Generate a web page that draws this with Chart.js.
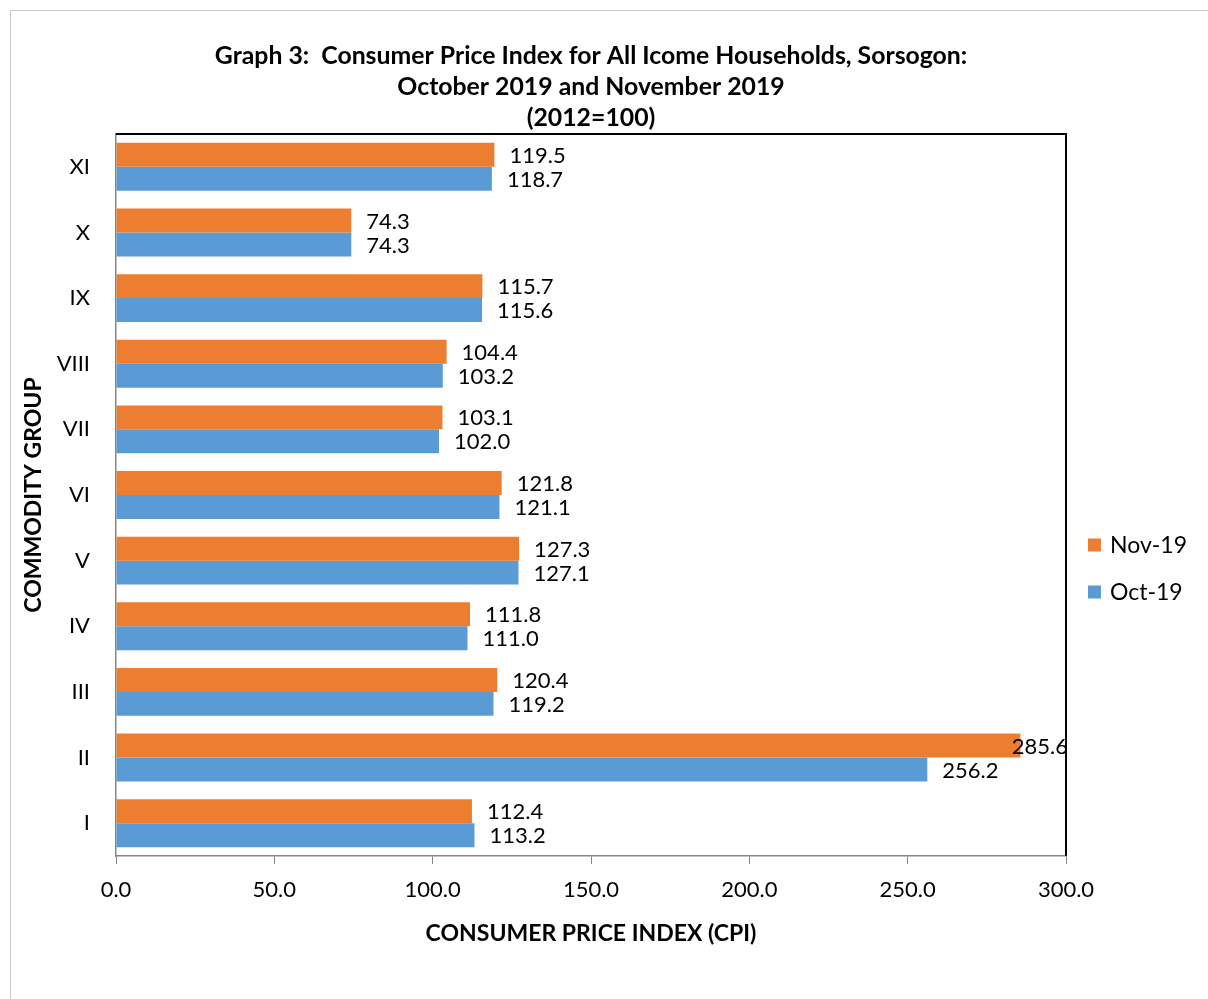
<!DOCTYPE html>
<html>
<head>
<meta charset="utf-8">
<script src="https://cdn.jsdelivr.net/npm/chart.js@4.4.1/dist/chart.umd.min.js"></script>
<style>
  html, body { margin: 0; padding: 0; background: #fff; }
  #frame {
    position: absolute; left: 10px; top: 10px;
    border-left: 1px solid #c8c8c8; border-top: 1px solid #c8c8c8;
  }
  canvas { display: block; }
</style>
</head>
<body>
<div id="frame"><canvas id="chart-cpi" width="1197" height="988"></canvas></div>
<script>
// ---- data (top to bottom as drawn) ----
const groups = ['XI', 'X', 'IX', 'VIII', 'VII', 'VI', 'V', 'IV', 'III', 'II', 'I'];
const nov19 = [119.5, 74.3, 115.7, 104.4, 103.1, 121.8, 127.3, 111.8, 120.4, 285.6, 112.4];
const oct19 = [118.7, 74.3, 115.6, 103.2, 102.0, 121.1, 127.1, 111.0, 119.2, 256.2, 113.2];
const seriesNames = ['Nov-19', 'Oct-19'];
const xTicks = [0, 50, 100, 150, 200, 250, 300];
const titleLines = [
  'Graph 3:  Consumer Price Index for All Icome Households, Sorsogon:',
  'October 2019 and November 2019',
  '(2012=100)',
];

const FONT = 'Lato';
const ORANGE = '#ED7D31';
const BLUE = '#5B9BD5';
const AXIS_GREY = '#868686';

// value labels at the bar ends, pushed back inside the plot when they overflow
const valueLabels = {
  id: 'valueLabels',
  afterDatasetsDraw(chart) {
    const { ctx, chartArea } = chart;
    ctx.save();
    ctx.font = `22px ${FONT}`;
    ctx.fillStyle = '#000';
    ctx.textBaseline = 'middle';
    ctx.textAlign = 'left';
    chart.data.datasets.forEach((ds, di) => {
      chart.getDatasetMeta(di).data.forEach((bar, i) => {
        const txt = ds.data[i].toFixed(1);
        const w = ctx.measureText(txt).width;
        const x = Math.min(bar.x + 15, chartArea.right + 2 - w);
        ctx.fillText(txt, x, bar.y + 1);
      });
    });
    ctx.restore();
  },
};

// black top/right plot frame + legend on the right
const frameAndLegend = {
  id: 'frameAndLegend',
  afterDraw(chart) {
    const { ctx, chartArea } = chart;
    ctx.save();
    ctx.strokeStyle = '#000';
    ctx.lineWidth = 2;
    ctx.beginPath();
    ctx.moveTo(chartArea.left, chartArea.top);
    ctx.lineTo(chartArea.right, chartArea.top);
    ctx.lineTo(chartArea.right, chartArea.bottom);
    ctx.stroke();

    ctx.font = `23px ${FONT}`;
    ctx.textBaseline = 'middle';
    ctx.textAlign = 'left';
    chart.data.datasets.forEach((ds, i) => {
      const cy = 534 + i * 47;
      ctx.fillStyle = ds.backgroundColor;
      ctx.fillRect(1077, cy - 6.5, 13, 13);
      ctx.fillStyle = '#000';
      ctx.fillText(ds.label, 1099, cy + 1);
    });
    ctx.restore();
  },
};

new Chart(document.getElementById('chart-cpi'), {
  type: 'bar',
  data: {
    labels: groups,
    datasets: [
      { label: seriesNames[0], data: nov19, backgroundColor: ORANGE },
      { label: seriesNames[1], data: oct19, backgroundColor: BLUE },
    ],
  },
  options: {
    indexAxis: 'y',
    responsive: false,
    animation: false,
    devicePixelRatio: 1,
    categoryPercentage: 0.73,
    barPercentage: 1,
    layout: { padding: { left: 0, right: 142, top: 0, bottom: 0 } },
    plugins: {
      legend: { display: false },
      tooltip: { enabled: false },
      title: {
        display: true,
        fullSize: false,
        text: titleLines,
        color: '#000',
        font: { family: FONT, size: 24.8, weight: 'bold', lineHeight: 1.25 },
        padding: { top: 30, bottom: 0 },
      },
    },
    scales: {
      x: {
        min: 0,
        max: 300,
        afterBuildTicks: s => { s.ticks = xTicks.map(v => ({ value: v })); },
        afterFit: s => { s.height = 143; },
        ticks: {
          color: '#000',
          font: { family: FONT, size: 22 },
          padding: 13,
          maxRotation: 0,
          callback: v => Number(v).toFixed(1),
        },
        grid: { drawOnChartArea: false, drawTicks: true, tickLength: 8, color: AXIS_GREY },
        border: { display: true, color: AXIS_GREY, width: 1.5 },
        title: {
          display: true,
          text: 'CONSUMER PRICE INDEX (CPI)',
          color: '#000',
          font: { family: FONT, size: 23, weight: 'bold' },
          padding: { top: 0, bottom: 52 },
        },
      },
      y: {
        afterFit: s => { s.width = 105; },
        ticks: {
          color: '#000',
          font: { family: FONT, size: 22 },
          padding: 26,
        },
        grid: { display: false, drawTicks: false },
        border: { display: true, color: AXIS_GREY, width: 1.5 },
        title: {
          display: true,
          text: 'COMMODITY GROUP',
          color: '#000',
          font: { family: FONT, size: 23, weight: 'bold' },
          padding: { top: 9, bottom: 0 },
        },
      },
    },
  },
  plugins: [valueLabels, frameAndLegend],
});
</script>
</body>
</html>
